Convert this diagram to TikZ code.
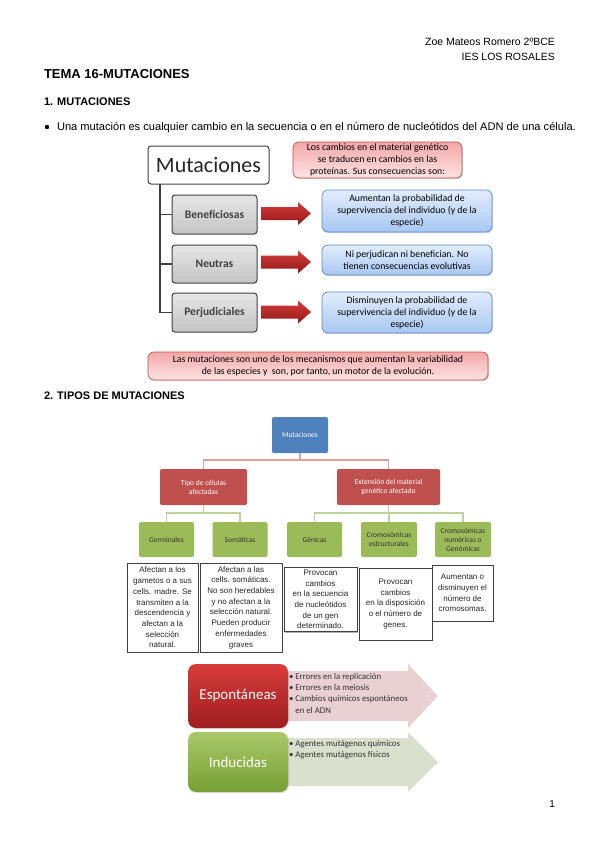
\documentclass[tikz,border=0pt]{standalone}
\usepackage{fontspec}
\setmainfont{Liberation Sans}
\newfontfamily\carlito{Carlito}
\usetikzlibrary{shadows}
\definecolor{dkgray}{HTML}{404040}
\definecolor{grayA}{HTML}{E6E6E6}
\definecolor{grayB}{HTML}{C4C4C4}
\definecolor{pinkA}{HTML}{F3A7A7}
\definecolor{pinkB}{HTML}{FDE3E3}
\definecolor{pinkBorder}{HTML}{C0504D}
\definecolor{blueA}{HTML}{E2EDFC}
\definecolor{blueB}{HTML}{A8C7F2}
\definecolor{blueBorder}{HTML}{5B87CC}
\definecolor{arrRedA}{HTML}{D23C3C}
\definecolor{arrRedB}{HTML}{951818}
\definecolor{mBlue}{HTML}{4F81BD}
\definecolor{mRed}{HTML}{C0504D}
\definecolor{mGreen}{HTML}{9BBB59}
\definecolor{lineRed}{HTML}{E39E9C}
\definecolor{lineGreen}{HTML}{BFD396}
\definecolor{arrPink}{HTML}{E8D0D3}
\definecolor{arrGreen}{HTML}{D9E1CE}
\definecolor{espA}{HTML}{D83C3C}
\definecolor{espB}{HTML}{9E1E1E}
\definecolor{indA}{HTML}{A9C86A}
\definecolor{indB}{HTML}{76A034}
\begin{document}
\begin{tikzpicture}[x=1pt,y=-1pt,
  every node/.style={inner sep=0pt,outer sep=0pt},
  hdr/.style={font=\fontsize{10.5}{12}\selectfont,text=black},
  bigbox/.style={draw=dkgray,line width=1pt,rounded corners=3pt,fill=white,
    font=\carlito\fontsize{22}{24}\selectfont,text=black!85},
  graybox/.style={draw=dkgray,line width=1pt,rounded corners=3pt,top color=grayA,bottom color=grayB,
    font=\carlito\bfseries\fontsize{11.5}{13}\selectfont,text=dkgray},
  pinkbox/.style={draw=pinkBorder,line width=0.7pt,rounded corners=6pt,top color=pinkA,bottom color=pinkB,
    align=center,font=\carlito\fontsize{9.8}{12}\selectfont,text=black,
    drop shadow={opacity=0.3,shadow xshift=1pt,shadow yshift=-1.2pt}},
  bluebox/.style={draw=blueBorder,line width=0.7pt,rounded corners=6pt,top color=blueA,bottom color=blueB,
    align=center,font=\carlito\fontsize{9.8}{12}\selectfont,text=black,
    drop shadow={opacity=0.3,shadow xshift=1pt,shadow yshift=-1.2pt}},
  treeconn/.style={draw=dkgray,line width=1.1pt},
  smallbox/.style={rounded corners=2pt,align=center,font=\carlito\fontsize{7.5}{9}\selectfont},
  bluenode/.style={smallbox,fill=mBlue,text=white},
  rednode/.style={smallbox,fill=mRed,text=white},
  greennode/.style={smallbox,fill=mGreen,text=black!80},
  redline/.style={draw=lineRed,line width=1.2pt},
  greenline/.style={draw=lineGreen,line width=1.2pt},
  textbox/.style={draw=black!75,line width=0.8pt,fill=white,align=center,
    font=\fontsize{8}{10.7}\selectfont,text=black!85,
    drop shadow={fill=black!45,opacity=0.7,shadow xshift=0.9pt,shadow yshift=-1.1pt}},
  typebox/.style={rounded corners=8pt,text=white,font=\carlito\fontsize{15}{17}\selectfont,
    drop shadow={opacity=0.25,shadow xshift=1pt,shadow yshift=-1.2pt}},
  listtext/.style={align=left,font=\carlito\fontsize{8.8}{11.3}\selectfont,text=black!80},
  redarrow/.pic={\shade[top color=arrRedA,bottom color=arrRedB]
    (0,-6.5) -- (37,-6.5) -- (37,-11.5) -- (50,0) -- (37,11.5) -- (37,6.5) -- (0,6.5) -- cycle;}
]
\useasboundingbox (0,0) rectangle (600,848);
\fill[white] (0,0) rectangle (600,848);

% ---------- header ----------
\node[hdr,anchor=base east] (auth) at (555,46) {Zoe Mateos Romero 2ºBCE};
\node[hdr,anchor=base east] (school) at (555,61) {IES LOS ROSALES};
\node[anchor=base west,font=\bfseries\fontsize{13}{15}\selectfont] (title) at (44,79) {TEMA 16-MUTACIONES};
\node[anchor=base west,font=\bfseries\fontsize{11}{13}\selectfont] (sec1) at (44,106) {1. MUTACIONES};
\fill (47,127) circle (2.2pt);
\node[anchor=base west,font=\fontsize{11.1}{13}\selectfont] (def) at (57,131)
  {Una mutación es cualquier cambio en la secuencia o en el número de nucleótidos del ADN de una célula.};

% ---------- section 1 diagram ----------
\node[bigbox,minimum width=121pt,minimum height=38pt] (mut1) at (208.5,165) {Mutaciones};
\node[graybox,minimum width=85pt,minimum height=39pt] (ben) at (214.5,214.5) {Beneficiosas};
\node[graybox,minimum width=85pt,minimum height=38pt] (neu) at (214.5,264) {Neutras};
\node[graybox,minimum width=85pt,minimum height=39pt] (per) at (214.5,312.5) {Perjudiciales};
\draw[treeconn] ([xshift=12pt]mut1.south west) |- (ben.west);
\draw[treeconn] ([xshift=12pt]mut1.south west) |- (neu.west);
\draw[treeconn] ([xshift=12pt]mut1.south west) |- (per.west);

\pic at (261,213.5) {redarrow};
\pic at (261,262) {redarrow};
\pic at (261,312) {redarrow};

\node[pinkbox,minimum width=169pt,minimum height=36pt] (cons) at (377.5,160)
  {Los cambios en el material genético\\se traducen en cambios en las\\proteínas. Sus consecuencias son:};
\node[bluebox,minimum width=170pt,minimum height=42pt] (c1) at (407,211)
  {Aumentan la probabilidad de\\supervivencia del individuo (y de la\\especie)};
\node[bluebox,minimum width=170pt,minimum height=30pt] (c2) at (407,260)
  {Ni perjudican ni benefician. No\\tienen consecuencias evolutivas};
\node[bluebox,minimum width=170pt,minimum height=41pt] (c3) at (407,312.5)
  {Disminuyen la probabilidad de\\supervivencia del individuo (y de la\\especie)};
\node[pinkbox,minimum width=340pt,minimum height=28pt] (motor) at (318,366)
  {Las mutaciones son uno de los mecanismos que aumentan la variabilidad\\de las especies y \ son, por tanto, un motor de la evolución.};

% ---------- section 2 ----------
\node[anchor=base west,font=\bfseries\fontsize{11}{13}\selectfont] (sec2) at (44,399) {2. TIPOS DE MUTACIONES};

\node[bluenode,minimum width=56pt,minimum height=36pt] (m2) at (300,435) {Mutaciones};
\node[rednode,minimum width=87pt,minimum height=36pt] (r1) at (203.5,487) {Tipo de células\\afectadas};
\node[rednode,minimum width=103pt,minimum height=36pt] (r2) at (388.5,487) {Extensión del material\\genético afectado};
\draw[redline] (m2.south) -- ++(0,7) -| (r1.north);
\draw[redline] (m2.south) -- ++(0,7) -| (r2.north);

\node[greennode,minimum width=55pt,minimum height=35pt] (g1) at (166.5,539.5) {Germinales};
\node[greennode,minimum width=55pt,minimum height=35pt] (g2) at (240,539.5) {Somáticas};
\node[greennode,minimum width=55pt,minimum height=35pt] (g3) at (314.5,539.5) {Génicas};
\node[greennode,minimum width=56pt,minimum height=35pt] (g4) at (389,539.5) {Cromosómicas\\estructurales};
\node[greennode,minimum width=56pt,minimum height=35pt] (g5) at (463,539.5) {Cromosómicas\\numéricas o\\Genómicas};
\draw[greenline] (r1.south) -- ++(0,8) -| (g1.north);
\draw[greenline] (r1.south) -- ++(0,8) -| (g2.north);
\draw[greenline] (r2.south) -- ++(0,8) -| (g3.north);
\draw[greenline] (r2.south) -- ++(0,8) -| (g4.north);
\draw[greenline] (r2.south) -- ++(0,8) -| (g5.north);

\node[textbox,minimum width=71pt,minimum height=89pt] (t1) at (162.5,607.5)
  {Afectan a los\\gametos o a sus\\cells. madre. Se\\transmiten a la\\descendencia y\\afectan a la\\selección\\natural.};
\node[textbox,minimum width=82pt,minimum height=89pt] (t2) at (241,607.5)
  {Afectan a las\\cells. somáticas.\\No son heredables\\y no afectan a la\\selección natural.\\Pueden producir\\enfermedades\\graves};
\node[textbox,minimum width=73pt,minimum height=64pt] (t3) at (320.5,599.5)
  {Provocan\\cambios\\en la secuencia\\de nucleótidos\\de un gen\\determinado.};
\node[textbox,minimum width=73pt,minimum height=72pt] (t4) at (395.5,604)
  {Provocan\\cambios\\en la disposición\\o el número de\\genes.};
\node[textbox,minimum width=61pt,minimum height=56pt] (t5) at (462.5,593)
  {Aumentan o\\disminuyen el\\número de\\cromosomas.};

% ---------- section 3 ----------
\fill[arrPink] (255,671) -- (408,671) -- (408,664) -- (438,696) -- (408,728) -- (408,721) -- (255,721) -- cycle;
\fill[arrGreen] (255,738) -- (408,738) -- (408,732) -- (438,762) -- (408,792) -- (408,786) -- (255,786) -- cycle;
\node[typebox,top color=espA,bottom color=espB,minimum width=100pt,minimum height=64pt] (esp) at (238,696) {Espontáneas};
\node[typebox,top color=indA,bottom color=indB,minimum width=100pt,minimum height=60pt] (ind) at (238,762) {Inducidas};
\node[listtext,anchor=north west] (espl) at (289,673)
  {\textbullet\ Errores en la replicación\\
   \textbullet\ Errores en la meiosis\\
   \textbullet\ Cambios químicos espontáneos\\
   \hphantom{\textbullet\ }en el ADN};
\node[listtext,anchor=north west] (indl) at (289,740)
  {\textbullet\ Agentes mutágenos químicos\\
   \textbullet\ Agentes mutágenos físicos};

% page number
\node[anchor=base east,font=\fontsize{10}{12}\selectfont] (pg) at (555,807) {1};
\end{tikzpicture}
\end{document}
